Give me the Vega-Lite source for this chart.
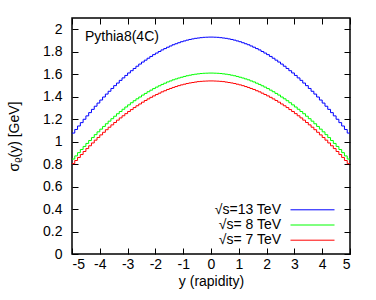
{
"$schema":"https://vega.github.io/schema/vega-lite/v6.json",
"width":278,"height":236,
"autosize":"none",
"padding":{"left":72,"top":18,"right":26,"bottom":46},
"background":"white",
"config":{"font":"Liberation Sans","view":{"stroke":"black","strokeWidth":1.5},
 "axis":{"labelFont":"Liberation Sans","titleFont":"Liberation Sans","labelFontSize":14,"titleFontSize":14,"titleFontWeight":"normal","labelColor":"black","titleColor":"black","tickColor":"black","grid":false,"domain":false,"tickSize":-6,"tickWidth":1}},
"title":{"text":"Pythia8(4C)","frame":"group","anchor":"start","orient":"top","offset":0,"dx":13,"dy":37,"baseline":"alphabetic","fontSize":14,"fontWeight":"normal","font":"Liberation Sans","color":"black"},
"resolve":{"axis":{"x":"independent","y":"independent"}},
"layer":[
{"data":{"values":[{"x":-5,"v":1.076},{"x":-4.9,"v":1.108},{"x":-4.8,"v":1.139},{"x":-4.7,"v":1.169},{"x":-4.6,"v":1.199},{"x":-4.5,"v":1.229},{"x":-4.4,"v":1.258},{"x":-4.3,"v":1.287},{"x":-4.2,"v":1.315},{"x":-4.1,"v":1.343},{"x":-4,"v":1.37},{"x":-3.9,"v":1.397},{"x":-3.8,"v":1.423},{"x":-3.7,"v":1.448},{"x":-3.6,"v":1.473},{"x":-3.5,"v":1.498},{"x":-3.4,"v":1.521},{"x":-3.3,"v":1.545},{"x":-3.2,"v":1.567},{"x":-3.1,"v":1.589},{"x":-3,"v":1.611},{"x":-2.9,"v":1.631},{"x":-2.8,"v":1.651},{"x":-2.7,"v":1.671},{"x":-2.6,"v":1.69},{"x":-2.5,"v":1.708},{"x":-2.4,"v":1.725},{"x":-2.3,"v":1.742},{"x":-2.2,"v":1.758},{"x":-2.1,"v":1.774},{"x":-2,"v":1.788},{"x":-1.9,"v":1.802},{"x":-1.8,"v":1.816},{"x":-1.7,"v":1.828},{"x":-1.6,"v":1.84},{"x":-1.5,"v":1.851},{"x":-1.4,"v":1.862},{"x":-1.3,"v":1.871},{"x":-1.2,"v":1.88},{"x":-1.1,"v":1.889},{"x":-1,"v":1.896},{"x":-0.9,"v":1.903},{"x":-0.8,"v":1.909},{"x":-0.7,"v":1.914},{"x":-0.6,"v":1.919},{"x":-0.5,"v":1.922},{"x":-0.4,"v":1.925},{"x":-0.3,"v":1.928},{"x":-0.2,"v":1.929},{"x":-0.1,"v":1.93},{"x":0,"v":1.93},{"x":0.1,"v":1.929},{"x":0.2,"v":1.928},{"x":0.3,"v":1.925},{"x":0.4,"v":1.922},{"x":0.5,"v":1.919},{"x":0.6,"v":1.914},{"x":0.7,"v":1.909},{"x":0.8,"v":1.903},{"x":0.9,"v":1.896},{"x":1,"v":1.889},{"x":1.1,"v":1.88},{"x":1.2,"v":1.871},{"x":1.3,"v":1.862},{"x":1.4,"v":1.851},{"x":1.5,"v":1.84},{"x":1.6,"v":1.828},{"x":1.7,"v":1.816},{"x":1.8,"v":1.802},{"x":1.9,"v":1.788},{"x":2,"v":1.774},{"x":2.1,"v":1.758},{"x":2.2,"v":1.742},{"x":2.3,"v":1.725},{"x":2.4,"v":1.708},{"x":2.5,"v":1.69},{"x":2.6,"v":1.671},{"x":2.7,"v":1.651},{"x":2.8,"v":1.631},{"x":2.9,"v":1.611},{"x":3,"v":1.589},{"x":3.1,"v":1.567},{"x":3.2,"v":1.545},{"x":3.3,"v":1.521},{"x":3.4,"v":1.498},{"x":3.5,"v":1.473},{"x":3.6,"v":1.448},{"x":3.7,"v":1.423},{"x":3.8,"v":1.397},{"x":3.9,"v":1.37},{"x":4,"v":1.343},{"x":4.1,"v":1.315},{"x":4.2,"v":1.287},{"x":4.3,"v":1.258},{"x":4.4,"v":1.229},{"x":4.5,"v":1.199},{"x":4.6,"v":1.169},{"x":4.7,"v":1.139},{"x":4.8,"v":1.108},{"x":4.9,"v":1.076},{"x":5,"v":1.076}]},
 "mark":{"type":"line","interpolate":"step-after","strokeWidth":1},
 "encoding":{
  "x":{"field":"x","type":"quantitative","scale":{"domain":[-5,5],"nice":false,"zero":false},
   "axis":{"orient":"bottom","values":[-5,-4,-3,-2,-1,0,1,2,3,4,5],"labelExpr":"''+datum.value","labelPadding":9,"title":"y (rapidity)","titlePadding":3}},
  "y":{"field":"v","type":"quantitative","scale":{"domain":[0,2.1],"nice":false},
   "axis":{"orient":"left","values":[0,0.2,0.4,0.6,0.8,1,1.2,1.4,1.6,1.8,2],"format":"~g","labelPadding":16,"title":"σᵨ(y) [GeV]","titlePadding":21}},
  "color":{"datum":"√s=13 TeV","scale":{"domain":["√s=13 TeV","√s= 8 TeV","√s= 7 TeV"],"range":["#0000ff","#00ff00","#ff0000"]},
   "legend":{"orient":"none","legendX":233.5,"legendY":184.8,"title":null,"symbolType":"M-4,0H4","symbolSize":121,"symbolStrokeWidth":1,"symbolFillColor":"transparent","rowPadding":1.2,"labelAlign":"right","labelOffset":-38.5,"labelFontSize":14,"labelFont":"Liberation Sans","labelColor":"black","padding":0}}
 }},
{"data":{"values":[{"x":-5,"v":0.845},{"x":-4.9,"v":0.873},{"x":-4.8,"v":0.902},{"x":-4.7,"v":0.93},{"x":-4.6,"v":0.957},{"x":-4.5,"v":0.984},{"x":-4.4,"v":1.01},{"x":-4.3,"v":1.036},{"x":-4.2,"v":1.062},{"x":-4.1,"v":1.087},{"x":-4,"v":1.111},{"x":-3.9,"v":1.135},{"x":-3.8,"v":1.159},{"x":-3.7,"v":1.182},{"x":-3.6,"v":1.204},{"x":-3.5,"v":1.226},{"x":-3.4,"v":1.248},{"x":-3.3,"v":1.268},{"x":-3.2,"v":1.288},{"x":-3.1,"v":1.308},{"x":-3,"v":1.327},{"x":-2.9,"v":1.346},{"x":-2.8,"v":1.364},{"x":-2.7,"v":1.381},{"x":-2.6,"v":1.397},{"x":-2.5,"v":1.414},{"x":-2.4,"v":1.429},{"x":-2.3,"v":1.444},{"x":-2.2,"v":1.458},{"x":-2.1,"v":1.472},{"x":-2,"v":1.485},{"x":-1.9,"v":1.497},{"x":-1.8,"v":1.509},{"x":-1.7,"v":1.52},{"x":-1.6,"v":1.531},{"x":-1.5,"v":1.54},{"x":-1.4,"v":1.55},{"x":-1.3,"v":1.558},{"x":-1.2,"v":1.566},{"x":-1.1,"v":1.573},{"x":-1,"v":1.58},{"x":-0.9,"v":1.586},{"x":-0.8,"v":1.591},{"x":-0.7,"v":1.596},{"x":-0.6,"v":1.6},{"x":-0.5,"v":1.603},{"x":-0.4,"v":1.606},{"x":-0.3,"v":1.608},{"x":-0.2,"v":1.609},{"x":-0.1,"v":1.61},{"x":0,"v":1.61},{"x":0.1,"v":1.609},{"x":0.2,"v":1.608},{"x":0.3,"v":1.606},{"x":0.4,"v":1.603},{"x":0.5,"v":1.6},{"x":0.6,"v":1.596},{"x":0.7,"v":1.591},{"x":0.8,"v":1.586},{"x":0.9,"v":1.58},{"x":1,"v":1.573},{"x":1.1,"v":1.566},{"x":1.2,"v":1.558},{"x":1.3,"v":1.55},{"x":1.4,"v":1.54},{"x":1.5,"v":1.531},{"x":1.6,"v":1.52},{"x":1.7,"v":1.509},{"x":1.8,"v":1.497},{"x":1.9,"v":1.485},{"x":2,"v":1.472},{"x":2.1,"v":1.458},{"x":2.2,"v":1.444},{"x":2.3,"v":1.429},{"x":2.4,"v":1.414},{"x":2.5,"v":1.397},{"x":2.6,"v":1.381},{"x":2.7,"v":1.364},{"x":2.8,"v":1.346},{"x":2.9,"v":1.327},{"x":3,"v":1.308},{"x":3.1,"v":1.288},{"x":3.2,"v":1.268},{"x":3.3,"v":1.248},{"x":3.4,"v":1.226},{"x":3.5,"v":1.204},{"x":3.6,"v":1.182},{"x":3.7,"v":1.159},{"x":3.8,"v":1.135},{"x":3.9,"v":1.111},{"x":4,"v":1.087},{"x":4.1,"v":1.062},{"x":4.2,"v":1.036},{"x":4.3,"v":1.01},{"x":4.4,"v":0.984},{"x":4.5,"v":0.957},{"x":4.6,"v":0.93},{"x":4.7,"v":0.902},{"x":4.8,"v":0.873},{"x":4.9,"v":0.845},{"x":5,"v":0.845}]},
 "mark":{"type":"line","interpolate":"step-after","strokeWidth":1},
 "encoding":{
  "x":{"field":"x","type":"quantitative","axis":{"orient":"top","values":[-5,-4,-3,-2,-1,0,1,2,3,4,5],"labels":false,"title":null}},
  "y":{"field":"v","type":"quantitative","axis":{"orient":"right","values":[0,0.2,0.4,0.6,0.8,1,1.2,1.4,1.6,1.8,2],"labels":false,"title":null}},
  "color":{"datum":"√s= 8 TeV"}
 }},
{"data":{"values":[{"x":-5,"v":0.804},{"x":-4.9,"v":0.832},{"x":-4.8,"v":0.859},{"x":-4.7,"v":0.885},{"x":-4.6,"v":0.912},{"x":-4.5,"v":0.938},{"x":-4.4,"v":0.963},{"x":-4.3,"v":0.988},{"x":-4.2,"v":1.013},{"x":-4.1,"v":1.037},{"x":-4,"v":1.06},{"x":-3.9,"v":1.083},{"x":-3.8,"v":1.106},{"x":-3.7,"v":1.128},{"x":-3.6,"v":1.149},{"x":-3.5,"v":1.17},{"x":-3.4,"v":1.191},{"x":-3.3,"v":1.211},{"x":-3.2,"v":1.23},{"x":-3.1,"v":1.249},{"x":-3,"v":1.268},{"x":-2.9,"v":1.285},{"x":-2.8,"v":1.303},{"x":-2.7,"v":1.319},{"x":-2.6,"v":1.335},{"x":-2.5,"v":1.351},{"x":-2.4,"v":1.366},{"x":-2.3,"v":1.38},{"x":-2.2,"v":1.394},{"x":-2.1,"v":1.407},{"x":-2,"v":1.419},{"x":-1.9,"v":1.431},{"x":-1.8,"v":1.443},{"x":-1.7,"v":1.453},{"x":-1.6,"v":1.464},{"x":-1.5,"v":1.473},{"x":-1.4,"v":1.482},{"x":-1.3,"v":1.49},{"x":-1.2,"v":1.498},{"x":-1.1,"v":1.505},{"x":-1,"v":1.511},{"x":-0.9,"v":1.517},{"x":-0.8,"v":1.522},{"x":-0.7,"v":1.526},{"x":-0.6,"v":1.53},{"x":-0.5,"v":1.534},{"x":-0.4,"v":1.536},{"x":-0.3,"v":1.538},{"x":-0.2,"v":1.539},{"x":-0.1,"v":1.54},{"x":0,"v":1.54},{"x":0.1,"v":1.539},{"x":0.2,"v":1.538},{"x":0.3,"v":1.536},{"x":0.4,"v":1.534},{"x":0.5,"v":1.53},{"x":0.6,"v":1.526},{"x":0.7,"v":1.522},{"x":0.8,"v":1.517},{"x":0.9,"v":1.511},{"x":1,"v":1.505},{"x":1.1,"v":1.498},{"x":1.2,"v":1.49},{"x":1.3,"v":1.482},{"x":1.4,"v":1.473},{"x":1.5,"v":1.464},{"x":1.6,"v":1.453},{"x":1.7,"v":1.443},{"x":1.8,"v":1.431},{"x":1.9,"v":1.419},{"x":2,"v":1.407},{"x":2.1,"v":1.394},{"x":2.2,"v":1.38},{"x":2.3,"v":1.366},{"x":2.4,"v":1.351},{"x":2.5,"v":1.335},{"x":2.6,"v":1.319},{"x":2.7,"v":1.303},{"x":2.8,"v":1.285},{"x":2.9,"v":1.268},{"x":3,"v":1.249},{"x":3.1,"v":1.23},{"x":3.2,"v":1.211},{"x":3.3,"v":1.191},{"x":3.4,"v":1.17},{"x":3.5,"v":1.149},{"x":3.6,"v":1.128},{"x":3.7,"v":1.106},{"x":3.8,"v":1.083},{"x":3.9,"v":1.06},{"x":4,"v":1.037},{"x":4.1,"v":1.013},{"x":4.2,"v":0.988},{"x":4.3,"v":0.963},{"x":4.4,"v":0.938},{"x":4.5,"v":0.912},{"x":4.6,"v":0.885},{"x":4.7,"v":0.859},{"x":4.8,"v":0.832},{"x":4.9,"v":0.804},{"x":5,"v":0.804}]},
 "mark":{"type":"line","interpolate":"step-after","strokeWidth":1},
 "encoding":{
  "x":{"field":"x","type":"quantitative","axis":null},
  "y":{"field":"v","type":"quantitative","axis":null},
  "color":{"datum":"√s= 7 TeV"}
 }}
]
}
